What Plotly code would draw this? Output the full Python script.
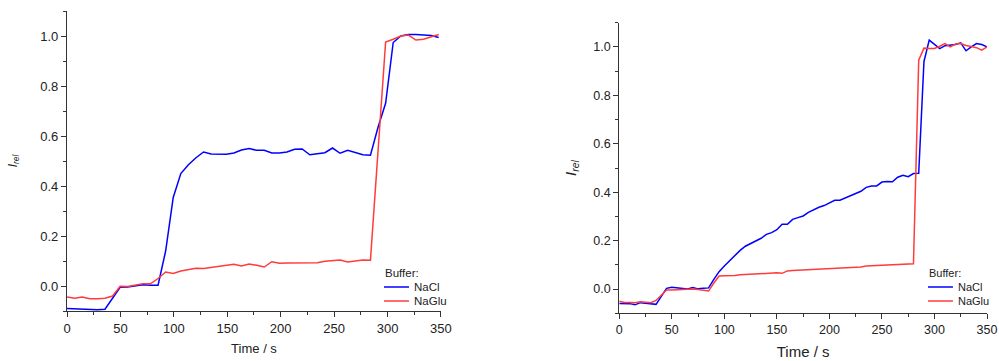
import plotly.graph_objects as go

# left panel, sampled every ~7.1 s
time_a = [0, 7.1, 14.2, 21.3, 28.4, 35.5, 42.6, 49.7, 56.8, 63.9,
          71.0, 78.1, 85.2, 92.3, 99.4, 106.5, 113.6, 120.7, 127.8, 134.9,
          142.0, 149.1, 156.2, 163.3, 170.4, 177.5, 184.6, 191.7, 198.8, 205.9,
          213.0, 220.1, 227.2, 234.3, 241.4, 248.5, 255.6, 262.7, 269.8, 276.9,
          284.0, 291.1, 298.2, 305.3, 312.4, 319.5, 326.6, 333.7, 340.8, 347.9]
nacl_a = [-0.090, -0.092, -0.092, -0.093, -0.095, -0.093, -0.050, -0.005, -0.004, 0.000,
          0.005, 0.003, 0.003, 0.140, 0.354, 0.450, 0.485, 0.513, 0.536, 0.528,
          0.526, 0.527, 0.532, 0.544, 0.550, 0.543, 0.543, 0.532, 0.532, 0.536,
          0.547, 0.548, 0.525, 0.529, 0.533, 0.552, 0.531, 0.543, 0.534, 0.525,
          0.523, 0.635, 0.731, 0.974, 1.000, 1.006, 1.006, 1.004, 1.002, 0.994]
naglu_a = [-0.044, -0.049, -0.044, -0.051, -0.051, -0.049, -0.040, -0.001, -0.002, 0.002,
           0.009, 0.009, 0.030, 0.056, 0.050, 0.060, 0.066, 0.071, 0.070, 0.074,
           0.078, 0.083, 0.087, 0.080, 0.088, 0.083, 0.076, 0.097, 0.091, 0.092,
           0.092, 0.092, 0.092, 0.093, 0.099, 0.103, 0.104, 0.096, 0.100, 0.104,
           0.103, 0.540, 0.976, 0.987, 1.000, 1.004, 0.984, 0.987, 0.998, 1.006]

# right panel, sampled every 5 s
time_b = [0, 5, 10, 15, 20, 25, 30, 35, 40, 45, 50, 55, 60, 65, 70, 75, 80, 85, 90, 95,
          100, 105, 110, 115, 120, 125, 130, 135, 140, 145, 150, 155, 160, 165, 170, 175,
          180, 185, 190, 195, 200, 205, 210, 215, 220, 225, 230, 235, 240, 245, 250, 255,
          260, 265, 270, 275, 280, 285, 290, 295, 300, 305, 310, 315, 320, 325, 330, 335,
          340, 345, 350]
nacl_b = [-0.059, -0.060, -0.060, -0.065, -0.056, -0.058, -0.060, -0.063, -0.030, 0.003,
          0.008, 0.005, 0.002, 0.000, 0.006, 0.001, 0.004, 0.005, 0.040, 0.072,
          0.095, 0.118, 0.140, 0.160, 0.177, 0.188, 0.200, 0.210, 0.226, 0.233,
          0.245, 0.268, 0.268, 0.288, 0.295, 0.302, 0.317, 0.328, 0.338, 0.345,
          0.357, 0.367, 0.367, 0.376, 0.387, 0.396, 0.404, 0.420, 0.426, 0.426,
          0.442, 0.444, 0.443, 0.462, 0.470, 0.464, 0.477, 0.478, 0.940, 1.028,
          1.010, 0.993, 1.005, 1.007, 1.010, 1.017, 0.984, 1.000, 1.014, 1.010, 1.000]
naglu_b = [-0.050, -0.055, -0.055, -0.056, -0.052, -0.054, -0.056, -0.047, -0.025, -0.004,
           -0.004, -0.003, -0.002, 0.000, 0.000, -0.002, -0.005, -0.008, 0.025, 0.054,
           0.055, 0.055, 0.056, 0.059, 0.060, 0.062, 0.063, 0.065, 0.066, 0.066,
           0.067, 0.065, 0.075, 0.077, 0.078, 0.079, 0.080, 0.080, 0.080, 0.082,
           0.084, 0.085, 0.086, 0.087, 0.087, 0.087, 0.091, 0.095, 0.096, 0.096,
           0.096, 0.097, 0.099, 0.100, 0.101, 0.101, 0.105, 0.945, 0.995, 0.994,
           0.994, 1.003, 1.014, 1.000, 1.012, 1.014, 1.006, 1.002, 0.997, 0.987, 1.000]

series_names = ["NaCl", "NaGlu"]
legend_title = "Buffer:"

BLUE = "#0000FF"
RED = "#FF3B3B"
FONT = "Arial, Liberation Sans, sans-serif"

fig = go.Figure()
fig.add_trace(go.Scatter(x=time_a, y=nacl_a, name=series_names[0], mode="lines",
                         line=dict(color=BLUE, width=1.5), xaxis="x", yaxis="y"))
fig.add_trace(go.Scatter(x=time_a, y=naglu_a, name=series_names[1], mode="lines",
                         line=dict(color=RED, width=1.5), xaxis="x", yaxis="y"))
fig.add_trace(go.Scatter(x=time_b, y=nacl_b, name=series_names[0], mode="lines",
                         line=dict(color=BLUE, width=1.5), xaxis="x2", yaxis="y2"))
fig.add_trace(go.Scatter(x=time_b, y=naglu_b, name=series_names[1], mode="lines",
                         line=dict(color=RED, width=1.5), xaxis="x2", yaxis="y2"))


def xax(domain, anchor, size, tsize, standoff):
    return dict(domain=domain, anchor=anchor, range=[0, 350], dtick=50, tick0=0,
                automargin=False,
                showgrid=False, zeroline=False, showline=True, linecolor="#333", linewidth=1.2,
                ticks="outside", ticklen=5, tickcolor="#333", tickfont=dict(size=size, color="#222"),
                minor=dict(ticks="outside", ticklen=3, dtick=25, tickcolor="#333"),
                title=dict(text="Time / s", font=dict(size=tsize, color="#222"), standoff=standoff))


def yax(domain, anchor, size, tsize, standoff):
    return dict(domain=domain, anchor=anchor, range=[-0.1, 1.1], dtick=0.2, tick0=0,
                tickformat=".1f", automargin=False,
                showgrid=False, zeroline=False, showline=True, linecolor="#333", linewidth=1.2,
                ticks="outside", ticklen=5, tickcolor="#333", tickfont=dict(size=size, color="#222"),
                minor=dict(ticks="outside", ticklen=3, dtick=0.1, tickcolor="#333"),
                title=dict(text="<i>I<sub>rel</sub></i>", font=dict(size=tsize, color="#222"),
                           standoff=standoff))


# small hand-made legends (Origin style, tight rows)
shapes = []
annotations = []
for lx, fsize in [(0.3834, 11.5), (0.9279, 11)]:
    annotations.append(dict(text=legend_title, x=lx, y=0.2438, xref="paper", yref="paper",
                            xanchor="left", yanchor="middle", showarrow=False,
                            font=dict(size=fsize, color="#222")))
    for name, color, ly in [(series_names[0], BLUE, 0.2050), (series_names[1], RED, 0.1662)]:
        shapes.append(dict(type="line", xref="paper", yref="paper", x0=lx + 0.001, x1=lx + 0.026,
                           y0=ly, y1=ly, line=dict(color=color, width=1.5)))
        annotations.append(dict(text=name, x=lx + 0.029, y=ly, xref="paper", yref="paper",
                                xanchor="left", yanchor="middle", showarrow=False,
                                font=dict(size=fsize, color="#222")))

fig.update_layout(
    width=999, height=361,
    margin=dict(l=0, r=0, t=0, b=0, autoexpand=False),
    paper_bgcolor="white", plot_bgcolor="white",
    font=dict(family=FONT, color="#222"),
    showlegend=False,
    xaxis=xax([0.0671, 0.4414], "y", 13, 13, 9),
    yaxis=yax([0.1385, 0.9695], "x", 13, 12, 20),
    xaxis2=xax([0.6199, 0.988], "y2", 12.5, 15, 10),
    yaxis2=yax([0.1321, 0.9371], "x2", 12.5, 15, 13),
    shapes=shapes,
    annotations=annotations,
)

# drop the browser's default 8 px body margin so the figure fills the window
fig.write_html("out.html", config={"displayModeBar": False},
               post_script="document.body.style.margin='0';")
